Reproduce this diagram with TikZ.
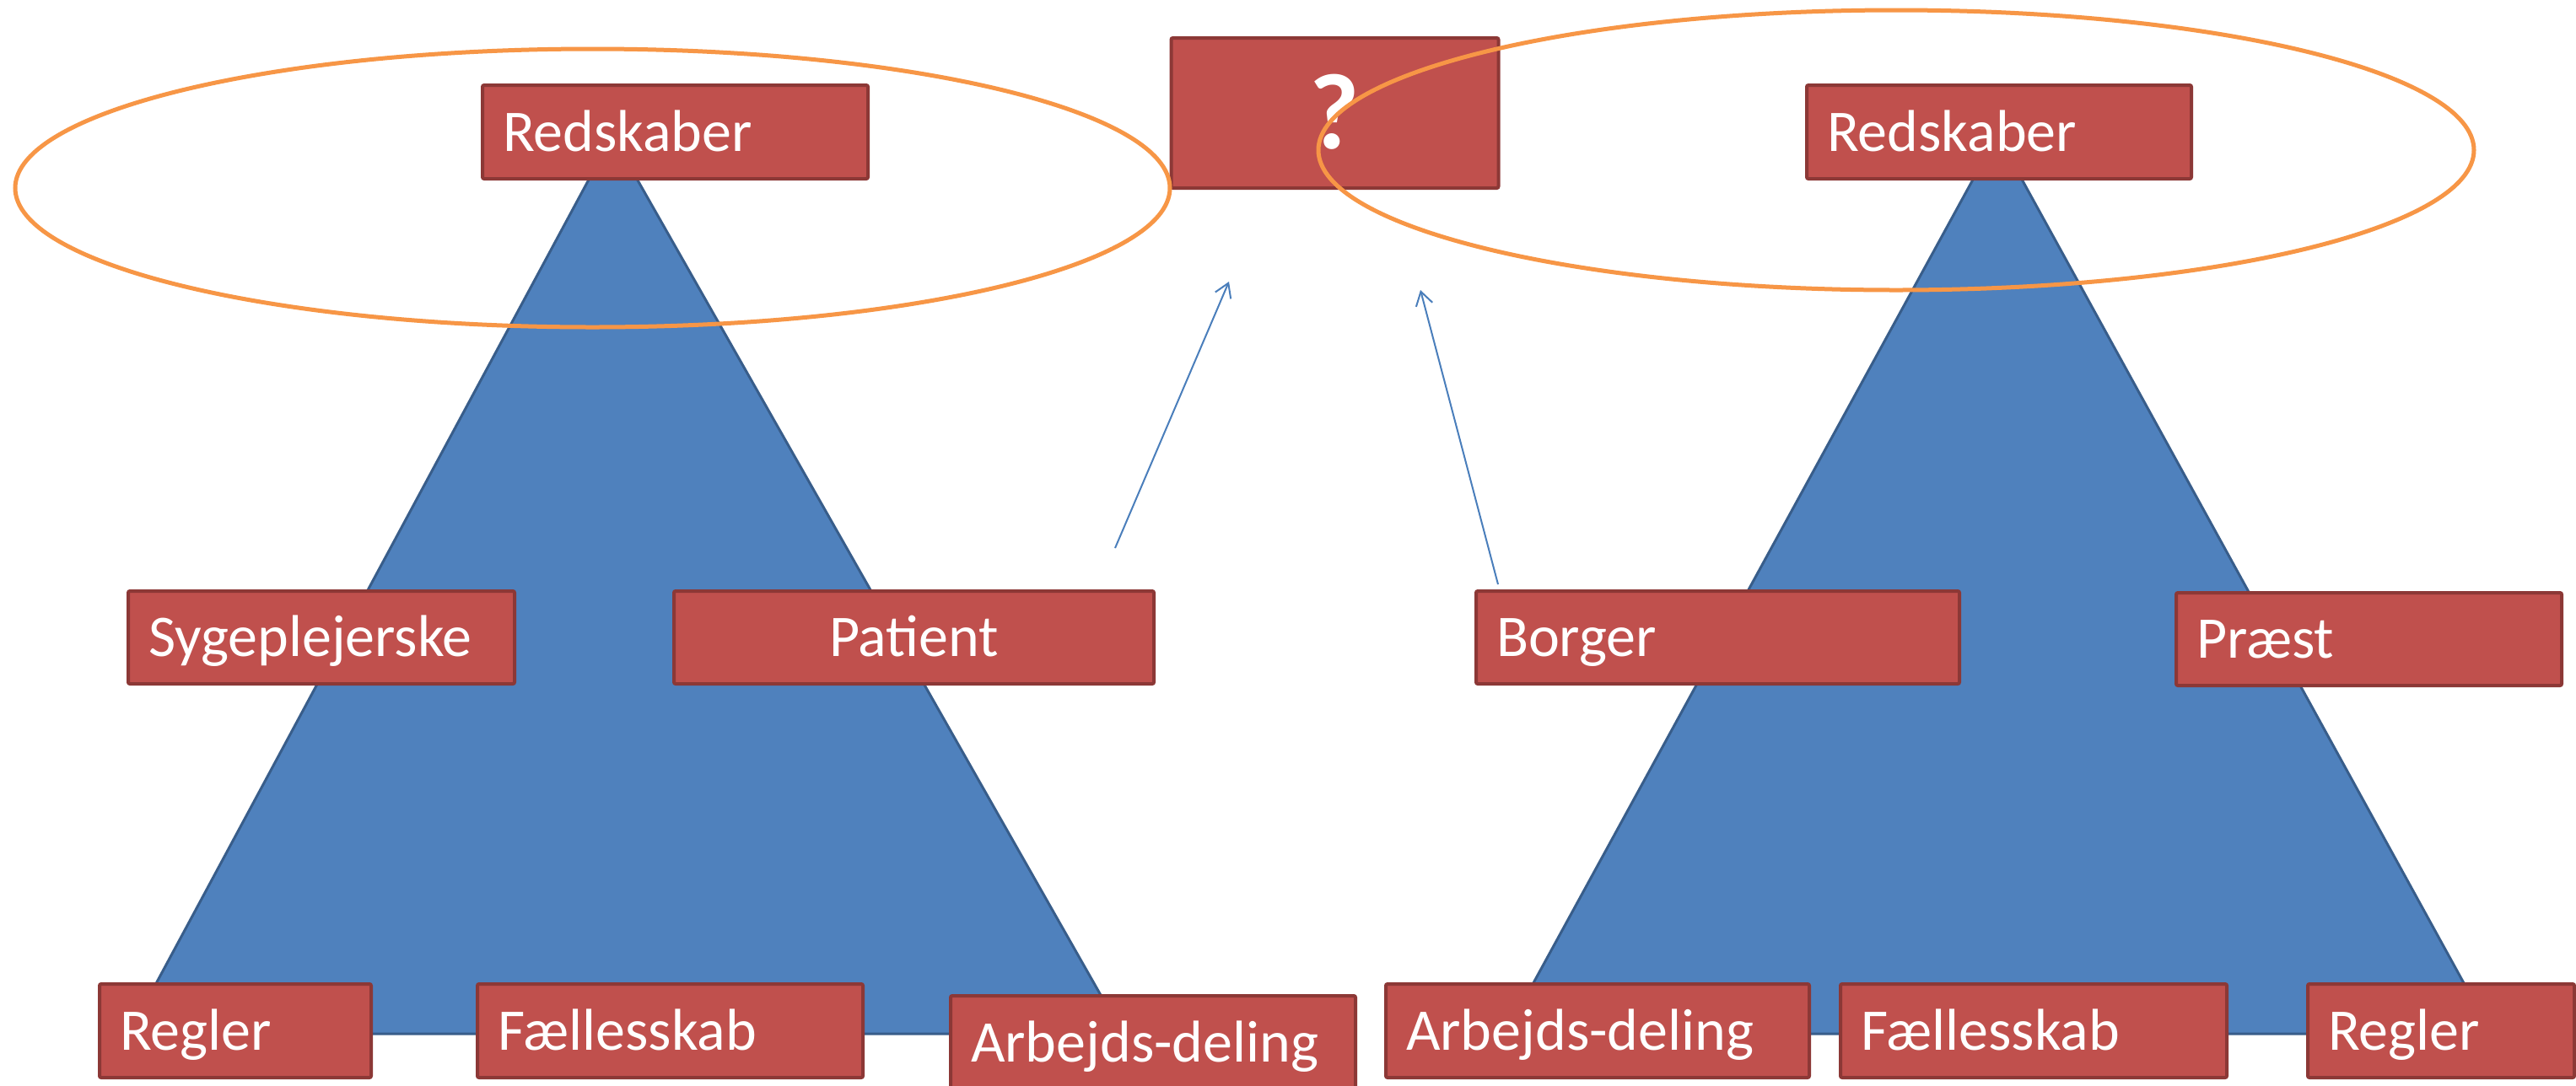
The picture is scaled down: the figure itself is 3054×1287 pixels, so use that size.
\documentclass[tikz,border=0pt]{standalone}
\usepackage{fontspec}
\setmainfont{Carlito}
\usetikzlibrary{arrows.meta}
\definecolor{boxfill}{HTML}{C0504D}
\definecolor{boxline}{HTML}{8C3836}
\definecolor{trifill}{HTML}{4F81BD}
\definecolor{triline}{HTML}{385D8A}
\definecolor{ringcol}{HTML}{F79646}
\definecolor{arrowcol}{HTML}{4A7EBB}
\tikzset{
  box/.style={rectangle, fill=boxfill, draw=boxline, line width=2pt, rounded corners=1pt,
    text=white, font=\fontsize{35}{42}\selectfont, inner xsep=12pt, inner ysep=0pt,
    text height=22.5pt, text depth=0pt, align=left},
  tri/.style={fill=trifill, draw=triline, line width=1.5pt, line join=round},
  ring/.style={draw=ringcol, line width=2.5pt},
  link/.style={draw=arrowcol, line width=1pt, -{Straight Barb[length=8pt,width=10pt]}}
}
\begin{document}
\begin{tikzpicture}[x=0.5pt,y=-0.5pt]
\clip (0,0) rectangle (3054,1287);
\fill[white] (0,0) rectangle (3054,1287);
% triangles
\draw[tri] (726,161) -- (153,1226) -- (1331,1226) -- cycle;
\draw[tri] (2368,160) -- (1785,1226) -- (2954,1226) -- cycle;
% top boxes
\node[box, text width=204.5pt, minimum height=55.5pt] (redL) at (800.5,156.5) {Redskaber};
\node[box, text width=170pt, minimum height=89pt, align=center, text height=0pt, font=\fontsize{64}{70}\selectfont\bfseries] (q) at (1582.5,134) {\raisebox{-21pt}{?}};
\node[box, text width=204pt, minimum height=55.5pt] (redR) at (2370,156.5) {Redskaber};
% middle boxes
\node[box, text width=205pt, minimum height=55pt] (syg) at (381,756) {Sygeplejerske};
\node[box, text width=260.5pt, minimum height=55pt, align=center] (pat) at (1083.5,756) {Patient};
\node[box, text width=262.5pt, minimum height=55pt] (borg) at (2036.5,756) {Borger};
\node[box, text width=204.5pt, minimum height=55pt] (praest) at (2808.5,758) {Præst};
% bottom boxes
\node[box, text width=137pt, minimum height=55.5pt] (reglL) at (279,1222.5) {Regler};
\node[box, text width=204.5pt, minimum height=55.5pt] (faelL) at (794.5,1222.5) {Fællesskab};
\node[box, text width=216pt, minimum height=55.5pt] (arbL) at (1367,1236.5) {Arbejds-deling};
\node[box, text width=227pt, minimum height=55.5pt] (arbR) at (1894,1222.5) {Arbejds-deling};
\node[box, text width=205pt, minimum height=55.5pt] (faelR) at (2411,1222.5) {Fællesskab};
\node[box, text width=134pt, minimum height=55.5pt] (reglR) at (2894,1222.5) {Regler};
% ellipses
\draw[ring] (702.5,223) ellipse [x radius=684.5, y radius=165];
\draw[ring] (2248,178) ellipse [x radius=685, y radius=166];
% arrows
\coordinate (a1s) at (1322,650);
\coordinate (a1e) at (1457,334);
\coordinate (a2s) at (1776,693);
\coordinate (a2e) at (1684,344);
\draw[link] (a1s) -- (a1e);
\draw[link] (a2s) -- (a2e);
\end{tikzpicture}
\end{document}
